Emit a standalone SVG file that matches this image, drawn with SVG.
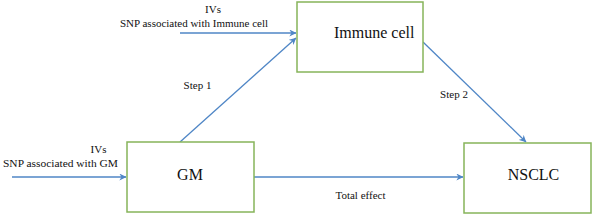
<svg xmlns="http://www.w3.org/2000/svg" width="593" height="216" viewBox="0 0 593 216">
<defs>
<style>
.box{fill:#ffffff;stroke:#86b45a;stroke-width:1.5}
.arr{fill:none;stroke:#4f86c6;stroke-width:1.3;marker-end:url(#ah)}
.t{fill:#111}
.big{font-size:16px}
.sm{font-size:11px}
</style>
<marker id="ah" viewBox="0 0 10 10" refX="9.5" refY="5" markerWidth="7" markerHeight="7" orient="auto" markerUnits="userSpaceOnUse">
<path d="M0,0 L10,5 L0,10 L3,5 Z" fill="#4f86c6"/>
</marker>
</defs>
<rect width="593" height="216" fill="#ffffff"/>
<g id="connectors">
<line class="arr" x1="180" y1="33" x2="296" y2="33"/>
<line class="arr" x1="180" y1="142" x2="296" y2="38"/>
<line class="arr" x1="423" y1="42" x2="526" y2="142"/>
<line class="arr" x1="254" y1="177" x2="463" y2="177"/>
<line class="arr" x1="12" y1="177" x2="126" y2="177"/>
</g>
<g font-family="'Liberation Serif', 'Times New Roman', 'DejaVu Serif', serif">
<g id="immune">
<rect class="box" x="297" y="2" width="126" height="70"/>
<text class="t big" x="334" y="38">Immune cell</text>
</g>
<g id="gm">
<rect class="box" x="127" y="142" width="127" height="70"/>
<text class="t big" x="190" y="180" text-anchor="middle">GM</text>
</g>
<g id="nsclc">
<rect class="box" x="464" y="143" width="127" height="70"/>
<text class="t big" x="533.5" y="180" text-anchor="middle">NSCLC</text>
</g>
<g id="labels">
<text class="t sm" x="213" y="13" text-anchor="middle">IVs</text>
<text class="t sm" x="194" y="27" text-anchor="middle">SNP associated with Immune cell</text>
<text class="t sm" x="197.5" y="89" text-anchor="middle">Step 1</text>
<text class="t sm" x="454" y="98" text-anchor="middle">Step 2</text>
<text class="t sm" x="360.5" y="199" text-anchor="middle">Total effect</text>
<text class="t sm" x="98.5" y="153" text-anchor="middle">IVs</text>
<text class="t sm" x="60.5" y="167" text-anchor="middle" textLength="115" lengthAdjust="spacingAndGlyphs">SNP associated with GM</text>
</g>
</g>
</svg>
